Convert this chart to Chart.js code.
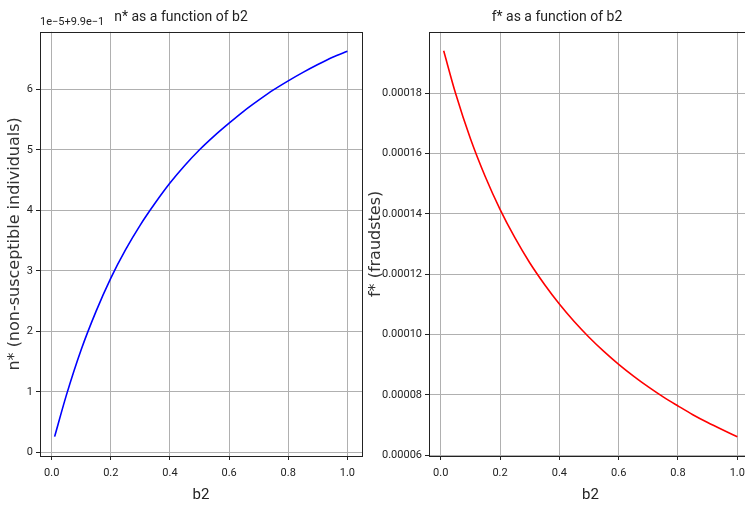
<!DOCTYPE html>
<html>
<head>
<meta charset="utf-8">
<script src="https://cdn.jsdelivr.net/npm/chart.js@4/dist/chart.umd.min.js"></script>
<style>
  html, body { margin: 0; padding: 0; background: #fff; overflow: hidden; width: 745px; height: 506px; }
  #left { position: absolute; left: 0; top: 0; }
  #right { position: absolute; left: 362px; top: 0; }
</style>
</head>
<body>
<canvas id="left" width="372" height="506"></canvas>
<canvas id="right" width="400" height="506"></canvas>
<script>
// values
const b2Values = [0.01, 0.05, 0.10, 0.15, 0.20, 0.25, 0.30, 0.35, 0.40, 0.45, 0.50,
                  0.55, 0.60, 0.65, 0.70, 0.75, 0.80, 0.85, 0.90, 0.95, 1.00];
// n* shown as offset: n* = 0.99 + value * 1e-5
const nValues = [0.26, 0.95, 1.70, 2.33, 2.88, 3.35, 3.76, 4.12, 4.45, 4.74, 5.00,
                 5.23, 5.44, 5.64, 5.82, 5.99, 6.14, 6.28, 6.41, 6.53, 6.63];
const fValues = [0.0001941, 0.0001800, 0.0001650, 0.0001524, 0.0001415, 0.0001321, 0.0001238,
                 0.0001166, 0.0001101, 0.0001043, 0.0000991, 0.0000944, 0.0000901, 0.0000862,
                 0.0000826, 0.0000793, 0.0000763, 0.0000734, 0.0000708, 0.0000684, 0.0000661];
const xTicks = [0.0, 0.2, 0.4, 0.6, 0.8, 1.0];
const nTicks = [0, 1, 2, 3, 4, 5, 6];
const fTicks = [0.00006, 0.00008, 0.00010, 0.00012, 0.00014, 0.00016, 0.00018];
const nOffsetLabel = '1e\u22125+9.9e\u22121';

const narrow = "Roboto, 'Liberation Sans', sans-serif";
const wide = "'DejaVu Sans', Verdana, sans-serif";
const gridColor = '#b0b0b0';

// draw the 4 spines like matplotlib
const frame = {
  id: 'frame',
  afterDraw(chart, args, opts) {
    const a = chart.chartArea, ctx = chart.ctx;
    ctx.save();
    ctx.strokeStyle = '#222';
    ctx.lineWidth = 1;
    ctx.strokeRect(Math.round(a.left) + 0.5, Math.round(a.top) + 0.5,
                   Math.round(a.right - a.left), Math.round(a.bottom - a.top));
    if (opts.offsetText) {
      ctx.fillStyle = '#222';
      ctx.font = '11px ' + narrow;
      ctx.textAlign = 'left';
      ctx.textBaseline = 'bottom';
      ctx.fillText(opts.offsetText, a.left, a.top - 4);
    }
    ctx.restore();
  }
};

function makeChart(id, values, color, yTicks, ymin, ymax, yTitle, yTitlePad, title, yWidth, fmt, offsetText) {
  return new Chart(document.getElementById(id), {
    type: 'line',
    data: {
      datasets: [{
        data: b2Values.map((x, i) => ({x: x, y: values[i]})),
        borderColor: color,
        borderWidth: 1.6,
        pointRadius: 0,
        cubicInterpolationMode: 'monotone',
        fill: false
      }]
    },
    options: {
      responsive: false,
      animation: false,
      layout: { padding: { top: 0, right: 10, bottom: 0, left: 0 } },
      plugins: {
        legend: { display: false },
        tooltip: { enabled: false },
        title: {
          display: true,
          text: title,
          color: '#222',
          font: { family: narrow, size: 14, weight: 'normal' },
          padding: { top: 9, bottom: 6 }
        },
        frame: { offsetText: offsetText }
      },
      scales: {
        x: {
          type: 'linear',
          min: -0.0395,
          max: 1.0495,
          afterBuildTicks: s => { s.ticks = xTicks.map(v => ({value: v})); },
          afterFit: s => { s.height = 50; },
          grid: { color: gridColor, lineWidth: 1, tickLength: 4, tickColor: '#222' },
          border: { display: false },
          ticks: {
            color: '#222',
            font: { family: narrow, size: 11 },
            padding: 7,
            maxRotation: 0,
            callback: v => v.toFixed(1)
          },
          title: {
            display: true,
            text: 'b2',
            color: '#222',
            font: { family: narrow, size: 15 },
            padding: { top: 0, bottom: 2 }
          }
        },
        y: {
          type: 'linear',
          min: ymin,
          max: ymax,
          afterBuildTicks: s => { s.ticks = yTicks.map(v => ({value: v})); },
          afterFit: s => { s.width = yWidth; },
          grid: { color: gridColor, lineWidth: 1, tickLength: 4, tickColor: '#222' },
          border: { display: false },
          ticks: {
            color: '#222',
            font: { family: narrow, size: 11 },
            padding: 3,
            callback: fmt
          },
          title: {
            display: true,
            text: yTitle,
            color: '#333',
            font: { family: wide, size: 16 },
            padding: { top: yTitlePad, bottom: 0 }
          }
        }
      }
    },
    plugins: [frame]
  });
}

makeChart('left', nValues, '#0000ff', nTicks, -0.06, 6.95,
  'n* (non-susceptible individuals)', 5, 'n* as a function of b2', 40,
  v => String(v), nOffsetLabel);

makeChart('right', fValues, '#ff0000', fTicks, 0.0000597, 0.0002004,
  'f* (fraudstes)', 4, 'f* as a function of b2', 67,
  v => v.toFixed(5), null);
</script>
</body>
</html>
